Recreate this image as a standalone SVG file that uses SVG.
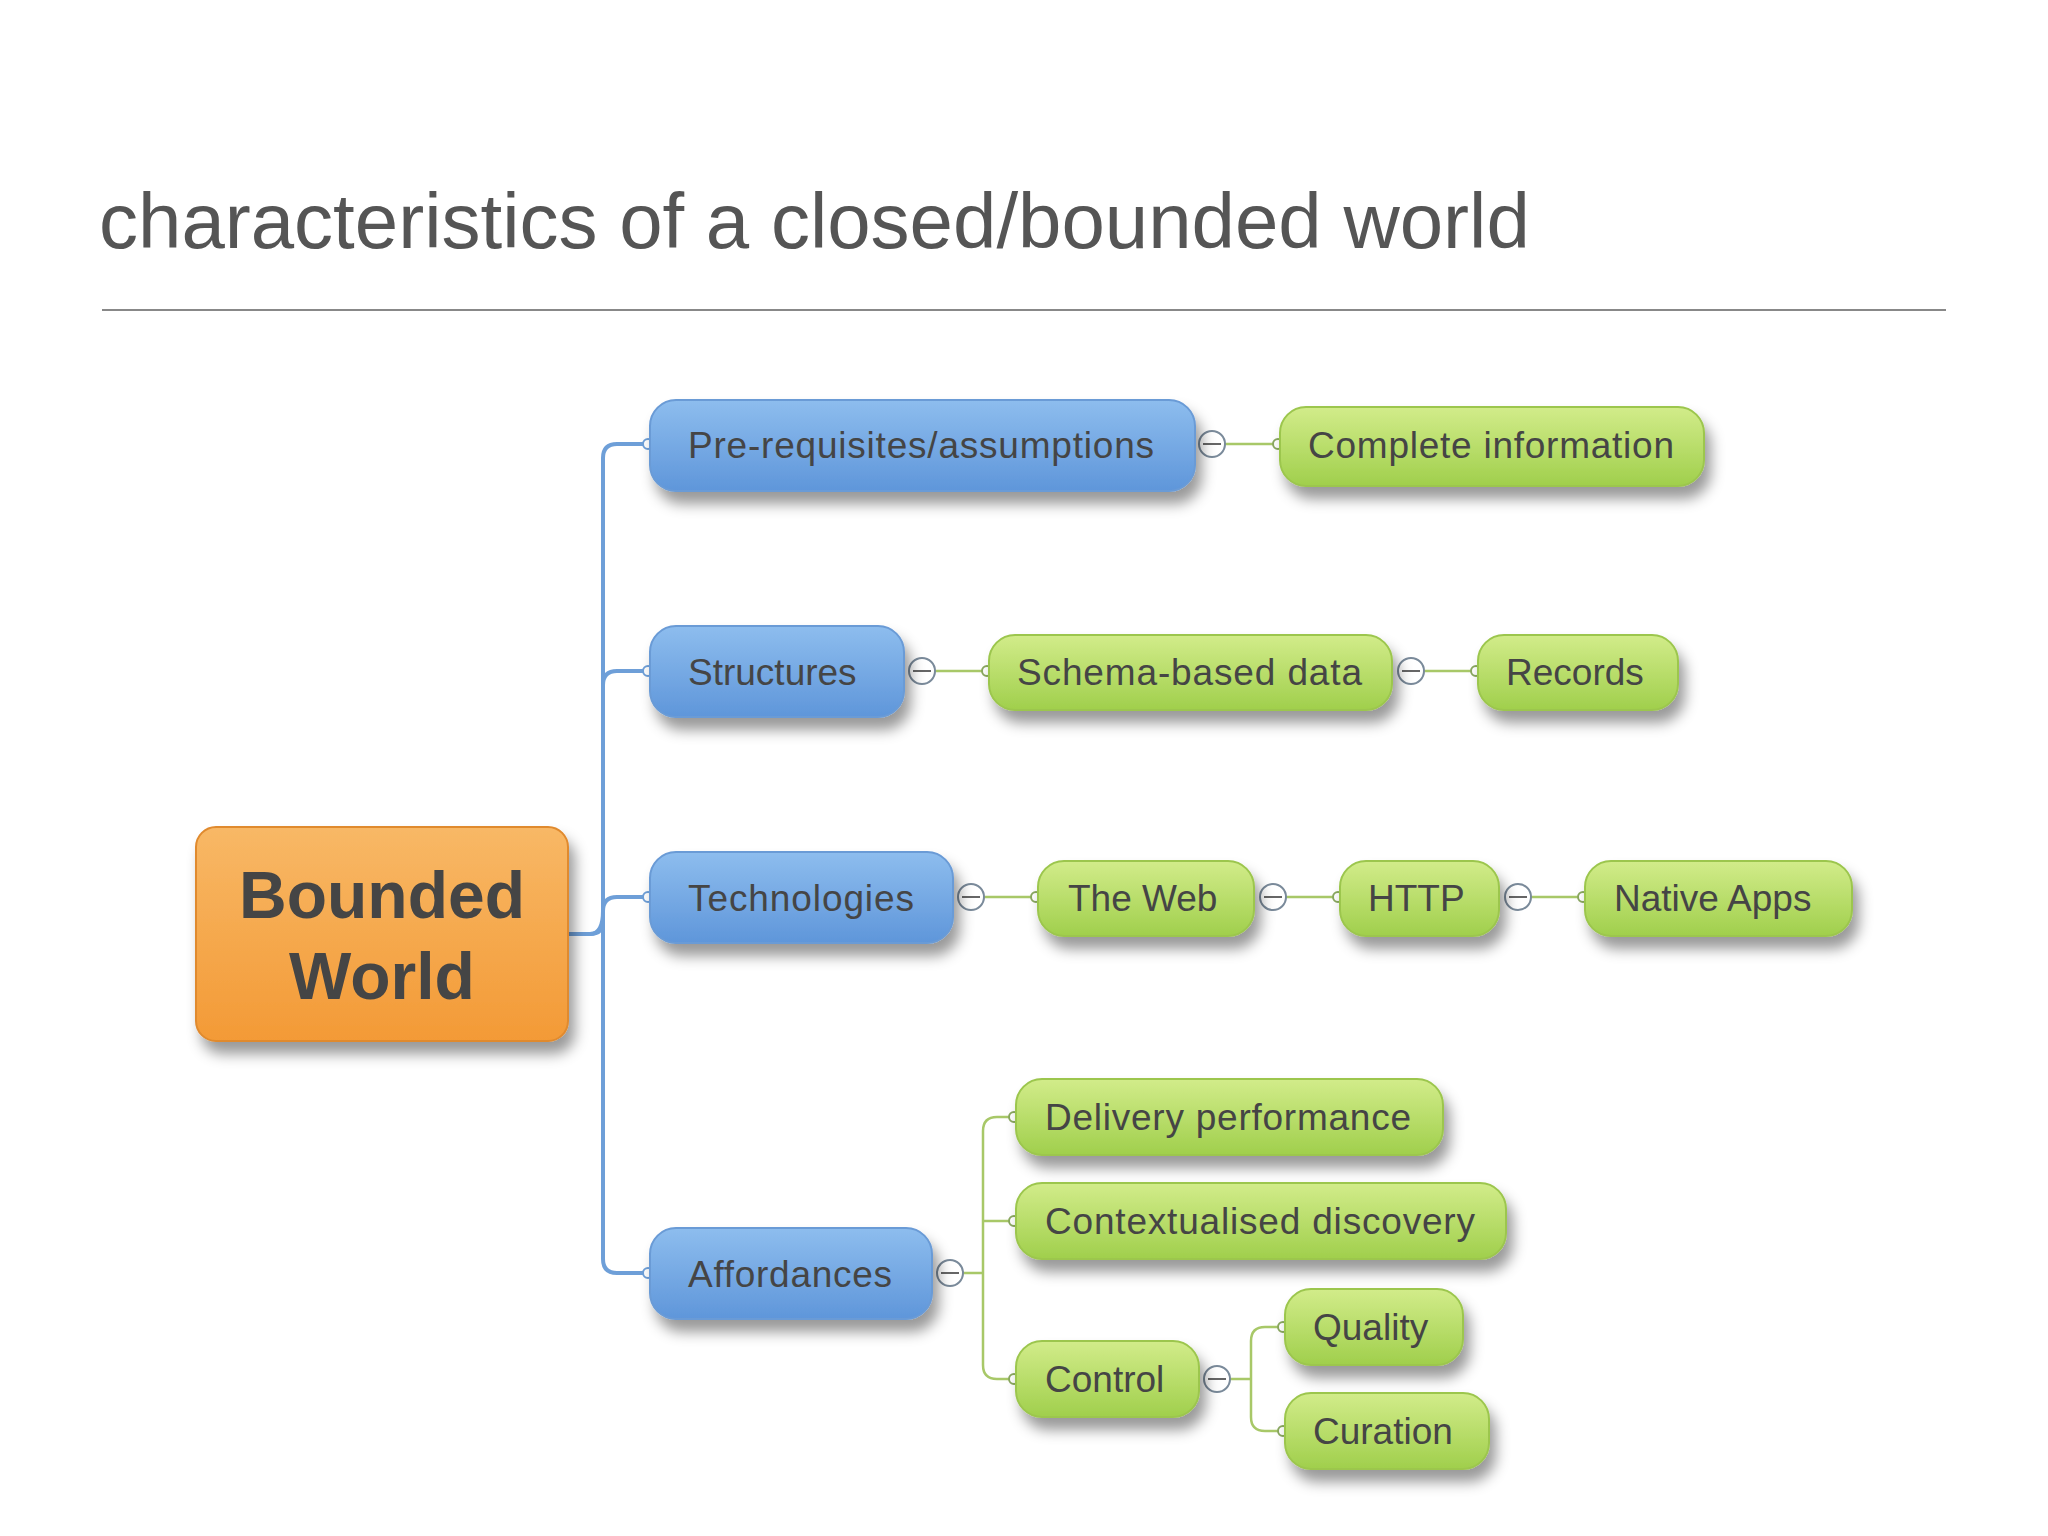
<svg xmlns="http://www.w3.org/2000/svg" width="2048" height="1536" viewBox="0 0 2048 1536">
<defs>
<linearGradient id="gb" x1="0" y1="0" x2="0" y2="1"><stop offset="0" stop-color="#8dbdee"/><stop offset="1" stop-color="#5f96da"/></linearGradient>
<linearGradient id="gg" x1="0" y1="0" x2="0" y2="1"><stop offset="0" stop-color="#d2ec8a"/><stop offset="1" stop-color="#a0cf4c"/></linearGradient>
<linearGradient id="go" x1="0" y1="0" x2="0" y2="1"><stop offset="0" stop-color="#f8b866"/><stop offset="1" stop-color="#f39a36"/></linearGradient>
<filter id="sh" x="-10%" y="-20%" width="130%" height="160%"><feDropShadow dx="6" dy="12" stdDeviation="7" flood-color="#000" flood-opacity="0.4"/></filter>
<style>
.b{fill:url(#gb);stroke:#6a9bd6;stroke-width:2;filter:url(#sh)}
.g{fill:url(#gg);stroke:#9cc64e;stroke-width:2;filter:url(#sh)}
.o{fill:url(#go);stroke:#e08a2e;stroke-width:2;filter:url(#sh)}
text{font-family:"Liberation Sans",Arial,sans-serif;fill:#454545}
.t{font-size:37px}
.cb{fill:none;stroke:#6e9fd8;stroke-width:4}
.cg{fill:none;stroke:#a8c868;stroke-width:2.5}
.ci{fill:#fff;stroke:#7a8a9a;stroke-width:2}
.dot{fill:#fff;stroke:#8aa860;stroke-width:2}
.dotb{fill:#fff;stroke:#6e9fd8;stroke-width:2}
</style>
</defs>
<rect width="2048" height="1536" fill="#fff"/>
<text x="99" y="248" font-size="78" style="fill:#555">characteristics of a closed/bounded world</text>
<line x1="102" y1="310" x2="1946" y2="310" stroke="#888" stroke-width="2"/>
<g id="connectors">
<path class="cb" d="M568 934 H590 Q603 934 603 921 V458 Q603 444 617 444 H650"/>
<path class="cb" d="M603 685 Q603 671 617 671 H650"/>
<path class="cb" d="M590 934 Q603 934 603 911 Q603 897 617 897 H650"/>
<path class="cb" d="M603 921 V1259 Q603 1273 617 1273 H650"/>
<circle class="dotb" cx="648" cy="444" r="5"/><circle class="dotb" cx="648" cy="671" r="5"/><circle class="dotb" cx="648" cy="897" r="5"/><circle class="dotb" cx="648" cy="1273" r="5"/>
<path class="cg" d="M1225 444 H1280 M917 671 H989 M1405 671 H1478 M966 897 H1038 M1267 897 H1340 M1512 897 H1585"/>
<path class="cg" d="M962 1273 H983 M983 1131 Q983 1117 997 1117 H1016 M983 1131 V1365 Q983 1379 997 1379 H1016 M983 1221 H1016"/>
<path class="cg" d="M1230 1379 H1251 M1251 1341 Q1251 1327 1265 1327 H1285 M1251 1341 V1417 Q1251 1431 1265 1431 H1285"/>
<g id="dots">
<circle class="dot" cx="1278" cy="444" r="5"/><circle class="dot" cx="987" cy="671" r="5"/><circle class="dot" cx="1476" cy="671" r="5"/>
<circle class="dot" cx="1036" cy="897" r="5"/><circle class="dot" cx="1338" cy="897" r="5"/><circle class="dot" cx="1583" cy="897" r="5"/>
<circle class="dot" cx="1014" cy="1117" r="5"/><circle class="dot" cx="1014" cy="1221" r="5"/><circle class="dot" cx="1014" cy="1379" r="5"/>
<circle class="dot" cx="1283" cy="1327" r="5"/><circle class="dot" cx="1283" cy="1431" r="5"/>
</g>
<g id="collapse">
<circle class="ci" cx="1212" cy="444" r="13"/><path d="M1203 444h18" stroke="#666" stroke-width="2"/>
<circle class="ci" cx="922" cy="671" r="13"/><path d="M913 671h18" stroke="#666" stroke-width="2"/>
<circle class="ci" cx="1411" cy="671" r="13"/><path d="M1402 671h18" stroke="#666" stroke-width="2"/>
<circle class="ci" cx="971" cy="897" r="13"/><path d="M962 897h18" stroke="#666" stroke-width="2"/>
<circle class="ci" cx="1273" cy="897" r="13"/><path d="M1264 897h18" stroke="#666" stroke-width="2"/>
<circle class="ci" cx="1518" cy="897" r="13"/><path d="M1509 897h18" stroke="#666" stroke-width="2"/>
<circle class="ci" cx="950" cy="1273" r="13"/><path d="M941 1273h18" stroke="#666" stroke-width="2"/>
<circle class="ci" cx="1217" cy="1379" r="13"/><path d="M1208 1379h18" stroke="#666" stroke-width="2"/>
</g>
</g>
<g id="bounded"><rect class="o" x="196" y="827" width="372" height="214" rx="20"/><text x="382" y="918" font-size="66" font-weight="bold" text-anchor="middle">Bounded</text><text x="382" y="999" font-size="66" font-weight="bold" text-anchor="middle">World</text></g>
<g id="prereq"><rect class="b" x="650" y="400" width="545" height="91" rx="26"/><text class="t" x="688" y="458" textLength="466">Pre-requisites/assumptions</text></g>
<g id="complete"><rect class="g" x="1280" y="407" width="424" height="79" rx="26"/><text class="t" x="1308" y="458" textLength="366">Complete information</text></g>
<g id="structures"><rect class="b" x="650" y="626" width="254" height="91" rx="26"/><text class="t" x="688" y="685">Structures</text></g>
<g id="schema"><rect class="g" x="989" y="635" width="403" height="75" rx="26"/><text class="t" x="1017" y="685" textLength="345">Schema-based data</text></g>
<g id="records"><rect class="g" x="1478" y="635" width="200" height="75" rx="26"/><text class="t" x="1506" y="685">Records</text></g>
<g id="technologies"><rect class="b" x="650" y="852" width="303" height="91" rx="26"/><text class="t" x="688" y="911" textLength="226">Technologies</text></g>
<g id="theweb"><rect class="g" x="1038" y="861" width="216" height="75" rx="26"/><text class="t" x="1068" y="911">The Web</text></g>
<g id="http"><rect class="g" x="1340" y="861" width="159" height="75" rx="26"/><text class="t" x="1368" y="911">HTTP</text></g>
<g id="native"><rect class="g" x="1585" y="861" width="267" height="75" rx="26"/><text class="t" x="1614" y="911">Native Apps</text></g>
<g id="affordances"><rect class="b" x="650" y="1228" width="282" height="91" rx="26"/><text class="t" x="688" y="1287" textLength="204">Affordances</text></g>
<g id="delivery"><rect class="g" x="1016" y="1079" width="427" height="76" rx="26"/><text class="t" x="1045" y="1130" textLength="366">Delivery performance</text></g>
<g id="contextual"><rect class="g" x="1016" y="1183" width="490" height="76" rx="26"/><text class="t" x="1045" y="1234" textLength="430">Contextualised discovery</text></g>
<g id="control"><rect class="g" x="1016" y="1341" width="183" height="76" rx="26"/><text class="t" x="1045" y="1392">Control</text></g>
<g id="quality"><rect class="g" x="1285" y="1289" width="178" height="76" rx="26"/><text class="t" x="1313" y="1340">Quality</text></g>
<g id="curation"><rect class="g" x="1285" y="1393" width="204" height="76" rx="26"/><text class="t" x="1313" y="1444">Curation</text></g>
</svg>
